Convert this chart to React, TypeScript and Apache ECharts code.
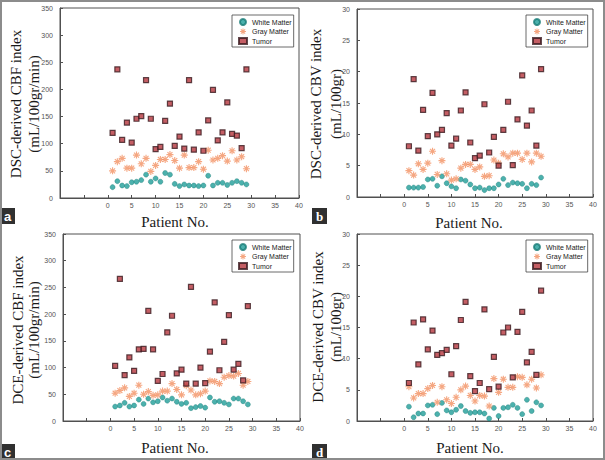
import React, { useEffect, useRef } from "react";
import * as echarts from "echarts";

const patients = [1, 2, 3, 4, 5, 6, 7, 8, 9, 10, 11, 12, 13, 14, 15, 16, 17, 18, 19, 20, 21, 22, 23, 24, 25, 26, 27, 28, 29];
const seriesNames = ["White Matter", "Gray Matter", "Tumor"];
const xTicks = [-10, 40, 5];

// Panel a: DSC-derived CBF
const dscCbfWhite = [20, 31, 23, 22, 29, 30, 33, 43, 30, 36, 30, 46, 43, 26, 22, 25, 23, 23, 22, 23, 41, 23, 28, 28, 24, 28, 31, 28, 25];
const dscCbfGray = [50, 67, 73, 55, 55, 79, 63, 73, 49, 60, 71, 71, 80, 69, 55, 79, 56, 56, 67, 53, 88, 70, 73, 78, 68, 87, 70, 76, 54];
const dscCbfTumor = [120, 237, 107, 139, 102, 146, 151, 217, 146, 90, 94, 142, 174, 96, 113, 91, 217, 89, 121, 87, 143, 199, 106, 121, 176, 118, 115, 92, 237];

// Panel b: DSC-derived CBV
const dscCbvWhite = [1.5, 1.5, 1.5, 1.6, 2.8, 2.9, 1.8, 3.3, 2.2, 1.7, 1.4, 2.8, 2.6, 2.0, 1.4, 1.5, 1.1, 1.4, 1.4, 2.0, 2.9, 1.9, 2.3, 2.2, 2.1, 1.4, 2.1, 1.9, 3.1];
const dscCbvGray = [4.2, 3.5, 5.3, 4.4, 5.4, 7.3, 3.6, 5.8, 3.7, 2.7, 2.9, 4.6, 5.2, 5.2, 4.4, 4.8, 3.3, 3.4, 5.9, 5.4, 6.9, 6.4, 7.0, 7.0, 6.0, 7.0, 5.6, 7.0, 6.5];
const dscCbvTumor = [8.1, 18.8, 7.4, 13.9, 9.7, 16.6, 10.0, 10.7, 13.4, 8.2, 9.3, 13.8, 16.7, 8.7, 6.2, 6.6, 14.8, 7.1, 9.6, 5.0, 10.7, 15.2, 5.1, 12.4, 19.4, 11.4, 13.8, 8.2, 20.4];

// Panel c: DCE-derived CBF
const dceCbfWhite = [27, 29, 34, 27, 29, 40, 32, 42, 35, 37, 44, 38, 42, 36, 32, 34, 24, 26, 28, 25, 44, 36, 37, 34, 31, 42, 42, 37, 31];
const dceCbfGray = [52, 57, 62, 46, 52, 67, 50, 55, 48, 49, 56, 56, 70, 59, 49, 66, 58, 49, 51, 56, 75, 74, 70, 82, 85, 84, 89, 67, 74];
const dceCbfTumor = [103, 266, 86, 119, 94, 134, 135, 206, 134, 75, 88, 166, 197, 89, 96, 70, 251, 70, 100, 71, 130, 222, 95, 148, 198, 96, 107, 76, 215];

// Panel d: DCE-derived CBV
const dceCbvWhite = [2.3, 0.6, 1.2, 1.2, 2.5, 2.6, 1.1, 2.9, 1.7, 1.4, 1.8, 2.4, 1.6, 1.3, 1.4, 1.4, 1.2, 0.4, 2.1, 0.8, 2.1, 2.2, 2.6, 2.1, 1.1, 3.4, 1.6, 3.0, 2.5];
const dceCbvGray = [5.5, 3.7, 4.4, 4.4, 5.2, 5.7, 3.0, 5.5, 3.4, 2.8, 3.8, 5.0, 5.6, 4.1, 3.2, 4.1, 4.0, 2.4, 6.8, 4.6, 6.7, 5.4, 5.4, 7.1, 7.0, 5.8, 6.7, 5.3, 7.4];
const dceCbvTumor = [6.1, 15.8, 9.1, 16.3, 11.5, 14.5, 10.6, 10.9, 11.4, 7.5, 12.0, 16.2, 19.1, 7.2, 4.8, 6.1, 17.9, 5.1, 10.3, 5.5, 14.2, 15.0, 7.0, 14.3, 17.5, 9.4, 11.1, 7.4, 20.9];

const yLabelsA = ["DSC-derived CBF index", "(mL/100gr/min)"];
const yLabelsB = ["DSC-derived CBV index", "(mL/100gr)"];
const yLabelsC = ["DCE-derived CBF index", "(mL/100gr/min)"];
const yLabelsD = ["DCE-derived CBV index", "(mL/100gr)"];
const xTitle = "Patient No.";
const panelLetters = ["a", "b", "c", "d"];

function asteriskPath(): string {
  const L = 5;
  const w = 0.8;
  let d = "";
  [0, 45, 90, 135].forEach((deg) => {
    const a = (deg * Math.PI) / 180;
    const c = Math.cos(a);
    const s = Math.sin(a);
    const pts = [
      [-L * c + w * s, -L * s - w * c],
      [L * c + w * s, L * s - w * c],
      [L * c - w * s, L * s + w * c],
      [-L * c - w * s, -L * s + w * c],
    ];
    d += "M" + pts.map((p) => p[0].toFixed(3) + " " + p[1].toFixed(3)).join(" L") + " Z ";
  });
  return "path://" + d;
}

const SERIF = "Liberation Serif";
const SANS = "Liberation Sans";

export default function App() {
  const ref = useRef<HTMLDivElement>(null);

  useEffect(() => {
    if (!ref.current) return;
    const chart = echarts.init(ref.current, undefined, { renderer: "svg" });

    const panels = [
      { grid: { left: 60, top: 8, width: 239, height: 190 }, max: 350, interval: 50, vals: [dscCbfWhite, dscCbfGray, dscCbfTumor], legend: { left: 232, top: 15 } },
      { grid: { left: 357, top: 9, width: 236, height: 188 }, max: 30, interval: 5, vals: [dscCbvWhite, dscCbvGray, dscCbvTumor], legend: { left: 526, top: 15 } },
      { grid: { left: 63, top: 234, width: 237, height: 187 }, max: 350, interval: 50, vals: [dceCbfWhite, dceCbfGray, dceCbfTumor], legend: { left: 232, top: 240 } },
      { grid: { left: 357, top: 234, width: 236, height: 187 }, max: 30, interval: 5, vals: [dceCbvWhite, dceCbvGray, dceCbvTumor], legend: { left: 526, top: 240 } },
    ];

    const star = asteriskPath();
    const styles = [
      { symbol: "circle", symbolSize: 5, itemStyle: { color: "#1f9e98", borderColor: "#167a75", borderWidth: 0.5 } },
      { symbol: star, symbolSize: 7, itemStyle: { color: "#f39163" } },
      { symbol: "rect", symbolSize: 5, itemStyle: { color: "#b5363d", borderColor: "#3a1c20", borderWidth: 1.2 } },
    ];

    const axisColor = "#505050";
    const grids: any[] = [];
    const xAxes: any[] = [];
    const yAxes: any[] = [];
    const series: any[] = [];
    const legends: any[] = [];

    panels.forEach((p, i) => {
      grids.push({ ...p.grid, show: true, borderColor: axisColor, borderWidth: 1, backgroundColor: "transparent" });
      xAxes.push({
        type: "value",
        gridIndex: i,
        min: xTicks[0],
        max: xTicks[1],
        interval: xTicks[2],
        axisLine: { show: true, onZero: false, lineStyle: { color: axisColor, width: 1 } },
        axisTick: { show: true, inside: true, length: 3, lineStyle: { color: axisColor } },
        splitLine: { show: false },
        axisLabel: {
          margin: 4,
          fontSize: 7,
          color: "#555",
          fontFamily: SANS,
          formatter: (v: number) => (v < 0 ? "" : String(v)),
        },
      });
      yAxes.push({
        type: "value",
        gridIndex: i,
        min: 0,
        max: p.max,
        interval: p.interval,
        axisLine: { show: true, onZero: false, lineStyle: { color: axisColor, width: 1 } },
        axisTick: { show: true, inside: true, length: 3, lineStyle: { color: axisColor } },
        splitLine: { show: false },
        axisLabel: { margin: 7, fontSize: 7, color: "#555", fontFamily: SANS },
      });
      seriesNames.forEach((name, k) => {
        series.push({
          type: "scatter",
          name,
          xAxisIndex: i,
          yAxisIndex: i,
          ...styles[k],
          data: patients.map((x, j) => [x, p.vals[k][j]]),
        });
      });
      legends.push({
        show: true,
        left: p.legend.left,
        top: p.legend.top,
        orient: "vertical",
        data: seriesNames,
        itemWidth: 8,
        itemHeight: 6,
        itemGap: 1.5,
        padding: [3, 2, 2, 6],
        backgroundColor: "#fff",
        borderColor: "#444",
        borderWidth: 0.8,
        borderRadius: 0,
        selectedMode: false,
        textStyle: { fontSize: 7, color: "#222", fontFamily: SANS, lineHeight: 8 },
      });
    });

    const yLabelSets = [
      { lines: yLabelsA, xs: [16, 34], y: 104 },
      { lines: yLabelsB, xs: [316, 336], y: 104 },
      { lines: yLabelsC, xs: [17.5, 34], y: 330 },
      { lines: yLabelsD, xs: [318, 336], y: 327 },
    ];
    const xTitlePos = [
      [175, 222],
      [469, 223],
      [175, 448],
      [470, 448],
    ];
    const letterPos = [
      [0, 208],
      [312, 208],
      [0, 444],
      [312, 444],
    ];

    const graphics: any[] = [];
    const serifText = (t: string) => ({
      text: t,
      fontSize: 15,
      fontFamily: SERIF,
      fontWeight: "normal",
      fill: "#1a1a1a",
      align: "center",
      verticalAlign: "middle",
      textAlign: "center",
      textVerticalAlign: "middle",
    });
    yLabelSets.forEach((s) => {
      s.lines.forEach((t, k) => {
        graphics.push({
          type: "text",
          x: s.xs[k],
          y: s.y,
          rotation: Math.PI / 2,
          style: serifText(t),
        });
      });
    });
    xTitlePos.forEach((pos) => {
      graphics.push({
        type: "text",
        x: pos[0],
        y: pos[1],
        style: serifText(xTitle),
      });
    });
    letterPos.forEach((pos, k) => {
      graphics.push({
        type: "rect",
        shape: { x: pos[0], y: pos[1], width: 15, height: 16 },
        style: { fill: "#303030" },
      });
      graphics.push({
        type: "text",
        x: pos[0] + 7.5,
        y: pos[1] + 8.5,
        style: {
          text: panelLetters[k],
          fontSize: 13,
          fontWeight: "bold",
          fontFamily: k % 2 === 1 ? SERIF : SANS,
          fill: "#ffffff",
          align: "center",
          verticalAlign: "middle",
          textAlign: "center",
          textVerticalAlign: "middle",
        },
      });
    });
    graphics.push({
      type: "rect",
      shape: { x: 1, y: 1, width: 603, height: 458 },
      style: { fill: "none", stroke: "#8c8c8c", lineWidth: 2 },
      silent: true,
    });

    chart.setOption({
      animation: false,
      backgroundColor: "#ffffff",
      grid: grids,
      xAxis: xAxes,
      yAxis: yAxes,
      legend: legends,
      series,
      graphic: graphics,
    });

    return () => chart.dispose();
  }, []);

  return (
    <div
      ref={ref}
      style={{ position: "absolute", left: 0, top: 0, width: 605, height: 460 }}
    />
  );
}
